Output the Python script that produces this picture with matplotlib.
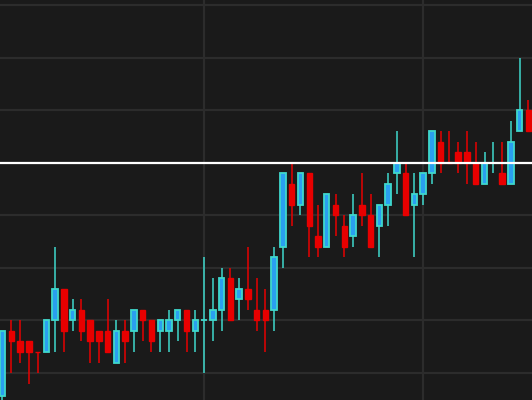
import matplotlib
matplotlib.use("Agg")
import matplotlib.pyplot as plt

# OHLC values (price units, one row per session)
opens = [-2.2, 4, 3, 3, 2, 2, 5, 8, 5, 6,
         5, 4, 4, 1, 4, 4, 6, 5, 4, 4,
         5, 6, 4, 5, 5, 6, 9, 7, 8, 6,
         6, 6, 12, 18, 16, 19, 13, 12, 16, 14,
         13, 16, 15, 14, 16, 19, 19, 16, 17, 19,
         22, 20.1, 21, 21, 20, 18, 20, 19, 18, 23,
         25]
highs = [4, 5, 5, 3, 2, 5, 12, 8, 7, 7,
         5, 4, 7, 5, 5, 6, 6, 5, 5, 6,
         6, 6, 6, 11, 9, 10, 10, 9, 12, 9,
         8, 12, 19, 20, 19, 19, 16, 17, 17, 15,
         17, 19, 17, 16, 19, 23, 20, 19, 19, 23,
         23, 23, 22, 23, 22, 21, 22, 22, 24, 30,
         26]
lows = [-2.6, 0, 1, -1, 0, 2, 2, 2, 4, 3,
        1, 1, 2, 1, 1, 2, 3, 2, 2, 2,
        3, 2, 2, 0, 3, 4, 5, 5, 6, 4,
        2, 4, 10, 14, 15, 11, 11, 12, 13, 11,
        12, 14, 12, 11, 14, 17, 15, 11, 16, 18,
        19, 20, 19, 18, 18, 18, 19, 18, 18, 23,
        23]
closes = [4, 3, 2, 2, 2, 5, 8, 4, 6, 4,
          3, 3, 2, 4, 3, 6, 5, 3, 5, 5,
          6, 4, 5, 5, 6, 9, 5, 8, 7, 5,
          5, 11, 19, 16, 19, 14, 12, 17, 15, 12,
          15, 15, 12, 16, 18, 20, 15, 17, 19, 23,
          20, 20, 20, 20, 18, 20, 20, 18, 22, 25,
          23]
refLevel = 20

bg = "#1a1a1a"
upEdge = "#3fd8cc"
upFill = "#2a9ff0"
downColor = "#e80000"

fig = plt.figure(figsize=(5.32, 4.0), dpi=100)
fig.patch.set_facecolor(bg)
ax = fig.add_axes([0, 0, 1, 1])
ax.set_facecolor(bg)

idx = list(range(len(opens)))
for i in idx:
    # the flat red candle at index 4 is a down session despite open == close
    up = closes[i] >= opens[i] and i != 4
    wickColor = upEdge if up else downColor
    ax.vlines(i, lows[i], highs[i], color=wickColor, linewidth=1.1, zorder=2)
    bottom = min(opens[i], closes[i])
    height = abs(closes[i] - opens[i])
    if up:
        ax.bar(i, height, bottom=bottom, width=0.62, color=upFill,
               edgecolor=upEdge, linewidth=1.3, zorder=3)
    else:
        ax.bar(i, height, bottom=bottom, width=0.62, color=downColor,
               edgecolor=downColor, linewidth=1.0, zorder=3)

ax.axhline(refLevel, color="white", linewidth=1.6, zorder=4)

ax.set_yticks(range(0, 40, 5))
ax.set_xticks([-2, 23, 48])
ax.set_xlim(-0.285, 60.42)
ax.set_ylim(-2.571, 35.52)
ax.grid(True, color="#2c2c2c", linewidth=1.6)
ax.set_axisbelow(True)
ax.tick_params(left=False, bottom=False, labelleft=False, labelbottom=False)
for s in ax.spines.values():
    s.set_visible(False)

fig.savefig("out.png", dpi=100, facecolor=bg)
